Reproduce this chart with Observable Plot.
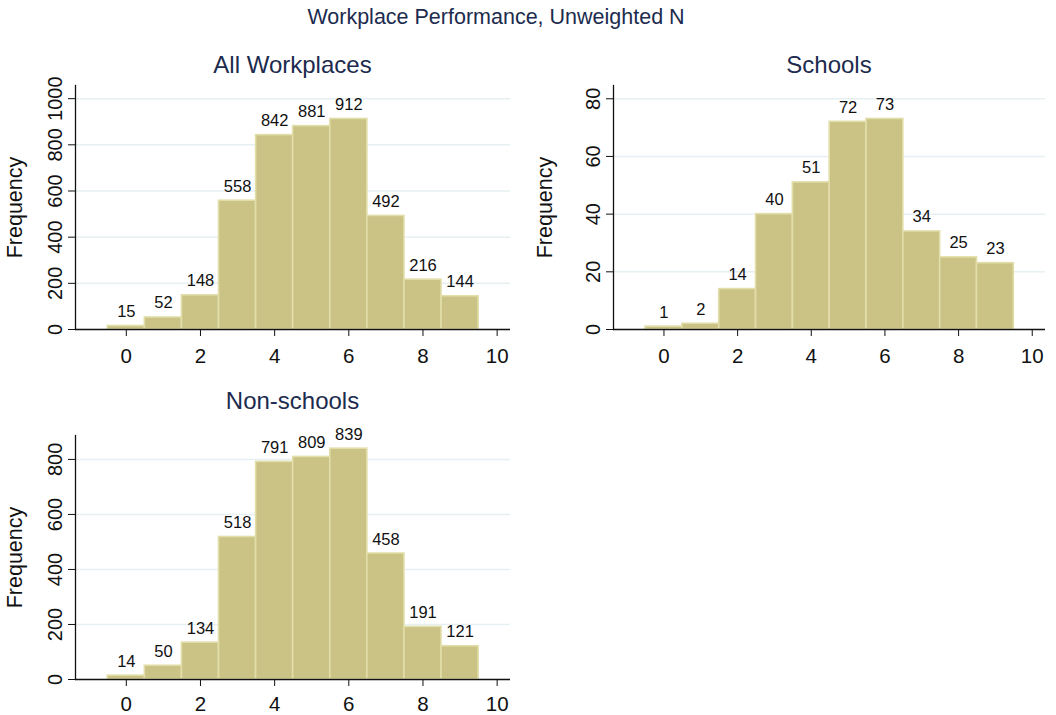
<!DOCTYPE html>
<html><head><meta charset="utf-8">
<script src="https://cdn.jsdelivr.net/npm/d3@7"></script>
<script src="https://cdn.jsdelivr.net/npm/@observablehq/plot@0.6"></script>
<style>
body{margin:0;background:#fff;font-family:"Liberation Sans",Arial,sans-serif;}
#root{position:relative;width:1056px;height:715px;overflow:hidden;background:#fff;}
.t{position:absolute;color:#1c2b4e;text-align:center;white-space:nowrap;line-height:1;}
.p{position:absolute;}
</style></head><body><div id="root"></div>
<script>
const mainTitle = "Workplace Performance, Unweighted N";
const panelTitles = ["All Workplaces", "Schools", "Non-schools"];
const bins = [0, 1, 2, 3, 4, 5, 6, 7, 8, 9];
const allCounts = [15, 52, 148, 558, 842, 881, 912, 492, 216, 144];
const schoolCounts = [1, 2, 14, 40, 51, 72, 73, 34, 25, 23];
const nonSchoolCounts = [14, 50, 134, 518, 791, 809, 839, 458, 191, 121];
const xTicks = [0, 2, 4, 6, 8, 10];
const allTicks = [0, 200, 400, 600, 800, 1000];
const schoolTicks = [0, 20, 40, 60, 80];
const nonSchoolTicks = [0, 200, 400, 600, 800];
const yLabel = "Frequency";

const root = document.getElementById("root");
const FONT = "'Liberation Sans', Arial, sans-serif";

function addTitle(text, cx, top, size, w) {
  const d = document.createElement("div");
  d.className = "t";
  d.textContent = text;
  d.style.left = (cx - w / 2) + "px";
  d.style.width = w + "px";
  d.style.top = top + "px";
  d.style.fontSize = size + "px";
  root.appendChild(d);
}

function panel(counts, yTicks, yMax, box) {
  const data = bins.map((b, i) => ({b, n: counts[i]}));
  const chart = Plot.plot({
    width: box.width,
    height: box.height,
    marginLeft: box.ml,
    marginRight: box.mr,
    marginTop: box.mt,
    marginBottom: box.mb,
    style: {fontFamily: FONT, background: "transparent", overflow: "visible"},
    x: {domain: [-1.37, 10.36]},
    y: {domain: [0, yMax]},
    marks: [
      Plot.gridY(yTicks, {stroke: "#e6eff1", strokeOpacity: 1, strokeWidth: 1.5}),
      Plot.rectY(data, {x1: d => d.b - 0.5, x2: d => d.b + 0.5, y: "n", fill: "#cbc386", stroke: "#e2dea9", strokeWidth: 1.6}),
      Plot.text(data, {x: "b", y: "n", text: d => String(d.n), dy: -9, lineAnchor: "bottom", fontSize: 16.5, fill: "#111"}),
      Plot.ruleY([0], {stroke: "#111", strokeWidth: 1.3}),
      Plot.frame({anchor: "left", stroke: "#111", strokeWidth: 1.3}),
      Plot.axisX(xTicks, {tickSize: 7, tickPadding: box.xpad, fontSize: 20.5, tickFormat: d => String(d), label: null, stroke: "#111", color: "#111"}),
      Plot.axisY(yTicks, {tickSize: 7, tickPadding: 7, tickRotate: -90, fontSize: 20, tickFormat: d => String(d), label: yLabel, labelAnchor: "center", labelOffset: box.ml - 6, labelArrow: "none", stroke: "#111", color: "#111"})
    ]
  });
  chart.classList.add("p");
  chart.style.left = box.left + "px";
  chart.style.top = box.top + "px";
  chart.querySelectorAll("g[aria-label='y-axis label']").forEach(el => el.setAttribute("font-size", 21.5));
  root.appendChild(chart);
}

addTitle(mainTitle, 496, 7, 21.5, 700);
addTitle(panelTitles[0], 292.5, 53, 24, 400);
addTitle(panelTitles[1], 829, 53, 24, 400);
addTitle(panelTitles[2], 292.5, 389, 24, 400);

panel(allCounts, allTicks, 1057, {left: 0, top: 80, width: 520, height: 300, ml: 75, mr: 10, mt: 5, mb: 51, xpad: 12});
panel(schoolCounts, schoolTicks, 84.6, {left: 530, top: 80, width: 526, height: 300, ml: 83, mr: 11, mt: 5, mb: 51, xpad: 12});
panel(nonSchoolCounts, nonSchoolTicks, 887, {left: 0, top: 430, width: 520, height: 285, ml: 75, mr: 10, mt: 5, mb: 36, xpad: 9.5});
</script></body></html>
